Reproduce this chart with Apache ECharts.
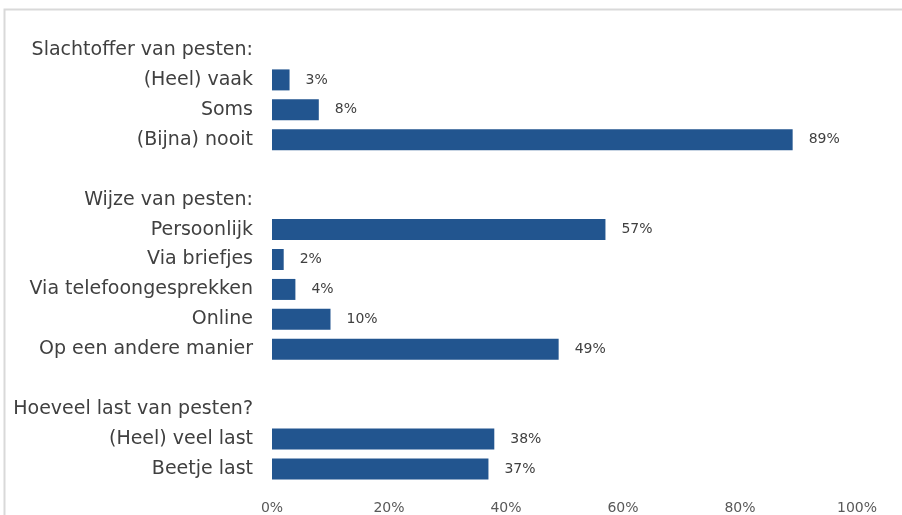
<!DOCTYPE html>
<html><head><meta charset="utf-8">
<script src="https://cdn.jsdelivr.net/npm/echarts@6/dist/echarts.min.js"></script>
<style>html,body{margin:0;padding:0;background:#fff}#c{width:902px;height:515px}</style>
</head><body><div id="c"></div>
<script>
const categories = ["Slachtoffer van pesten:", "(Heel) vaak", "Soms", "(Bijna) nooit", "",
  "Wijze van pesten:", "Persoonlijk", "Via briefjes", "Via telefoongesprekken", "Online", "Op een andere manier", "",
  "Hoeveel last van pesten?", "(Heel) veel last", "Beetje last"];
const values = [null, 3, 8, 89, null, null, 57, 2, 4, 10, 49, null, null, 38, 37];
const xTicks = [0, 20, 40, 60, 80, 100];

const chart = echarts.init(document.getElementById('c'));
const font = '"DejaVu Sans", sans-serif';
chart.setOption({
  animation: false,
  graphic: [{type: 'rect', shape: {x: 4.5, y: 9.5, width: 1000, height: 1000},
    style: {fill: 'none', stroke: '#d9d9d9', lineWidth: 2}, silent: true}],
  grid: {left: 272, right: 45, top: 35, bottom: 31, containLabel: false},
  xAxis: {type: 'value', min: xTicks[0], max: xTicks[xTicks.length - 1], interval: 20,
    axisLine: {show: false}, axisTick: {show: false}, splitLine: {show: false},
    axisLabel: {formatter: v => v + '%', color: '#595959', fontFamily: font, fontSize: 14, margin: 17}},
  yAxis: {type: 'category', inverse: true, data: categories,
    axisLine: {show: false}, axisTick: {show: false},
    axisLabel: {color: '#404040', fontFamily: font, fontSize: 19, margin: 19}},
  series: [{type: 'bar', data: values, barWidth: 21, itemStyle: {color: '#22558f'},
    label: {show: true, position: 'right', distance: 16, formatter: p => p.value + '%',
      color: '#404040', fontFamily: font, fontSize: 14}}]
});
</script></body></html>
